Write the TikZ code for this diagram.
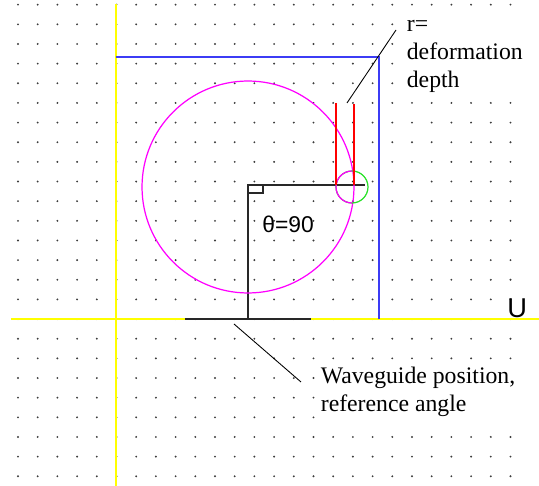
\documentclass[tikz,border=0pt]{standalone}
\usepackage{fontspec}
\setmainfont{Liberation Serif}
\newfontfamily\guifont{Liberation Sans}
\definecolor{dotgray}{RGB}{60,60,60}
\definecolor{axisyellow}{RGB}{255,255,0}
\definecolor{boxblue}{RGB}{60,60,245}
\definecolor{ringgreen}{RGB}{40,225,40}
\definecolor{ringpink}{RGB}{255,0,255}
\definecolor{linegray}{RGB}{40,40,40}

\begin{document}
\begin{tikzpicture}[x=0.02cm,y=-0.02cm,
    axis/.style={axisyellow,line width=1.1pt},
    frame/.style={linegray,line width=0.8pt},
    pointer/.style={black,line width=0.5pt},
    label/.style={fill=white,inner sep=2pt,align=left,
      font=\fontsize{13.5}{16.2}\selectfont}]
    \useasboundingbox (0,0) rectangle (539,486);
    % Dot grid
    \foreach \i in {0,...,25}
      \foreach \j in {0,...,24}
        \fill[dotgray] (18+19.7*\i,4.7+19.65*\j) circle (0.021cm);
    % Axes
    \draw[axis] (116,4) -- (116,486);
    \draw[axis] (11,319) -- (539,319);
    \node[anchor=base west,inner sep=0,font=\guifont\fontsize{15.5}{18}\selectfont] (ulabel) at (507,318) {U};
    % Deformation window
    \draw[boxblue,line width=1.1pt] (116,57) -| (379,319);
    % Waveguide
    \draw[linegray,line width=1.1pt] (185,319) -- (311,319);
    \coordinate (foot) at (248,319);
    \coordinate (knee) at (248,185);
    \coordinate (tip) at (365,185);
    \draw[frame] (foot) -- (knee) -- (tip);
    \draw[frame] (248,193) -| (263,185);
    \node[anchor=base west,inner sep=0,font=\guifont\fontsize{13}{15}\selectfont] (theta) at (262,233) {θ=90};
    % Circles
    \coordinate (C) at (248,187);
    \coordinate (P) at (352,187);
    \draw[ringpink,line width=0.7pt] (C) circle (2.12cm);
    \draw[ringgreen,line width=0.7pt] (P) circle (0.32cm);
    \draw[ringpink,line width=0.7pt] (P) ++(90:0.32cm) arc[start angle=90,end angle=270,radius=0.32cm];
    % Depth marks
    \draw[red,line width=0.9pt] (336,103) -- (336,185);
    \draw[red,line width=0.9pt] (354,104) -- (354,185);
    % Labels
    \node[label,anchor=base west] (rlabel) at (403,88) {r=\\deformation\\depth};
    \coordinate (rfoot) at (347,103);
    \coordinate (rtip) at (396,30);
    \draw[pointer] (rfoot) -- (rtip);
    \node[label,anchor=base west] (wglabel) at (317,412) {Waveguide position,\\reference angle};
    \coordinate (wgtip) at (234,324);
    \coordinate (wgend) at (301,382);
    \draw[pointer] (wgtip) -- (wgend);
\end{tikzpicture}
\end{document}
